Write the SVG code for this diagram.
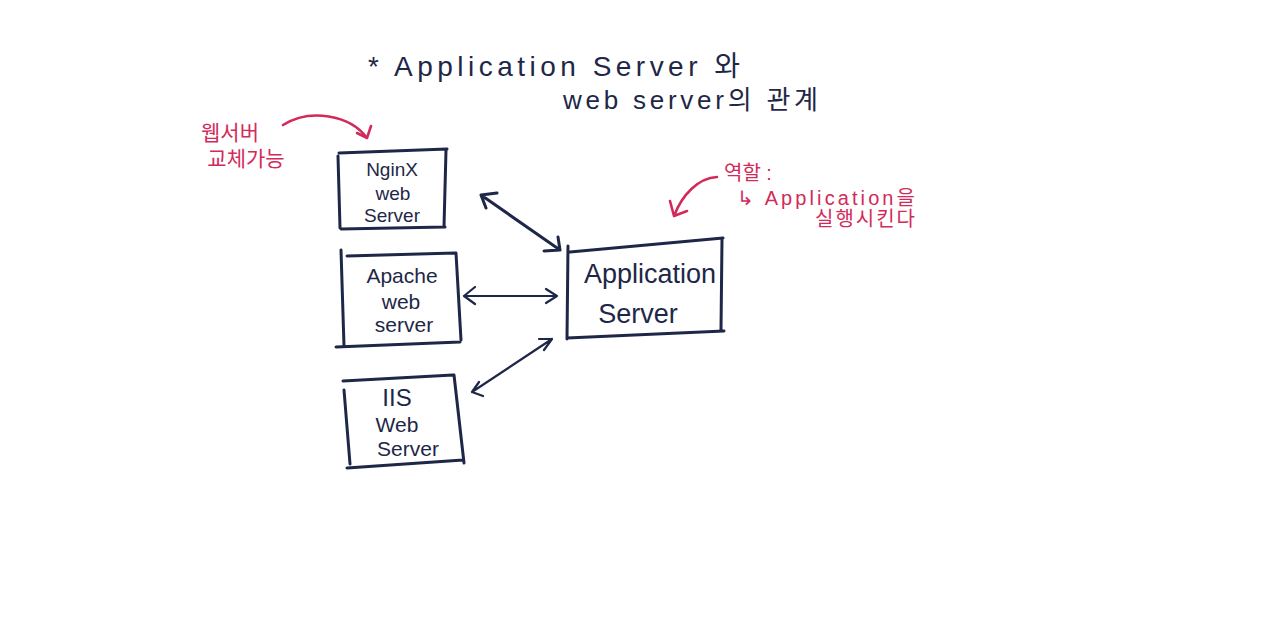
<svg xmlns="http://www.w3.org/2000/svg" width="1280" height="635" viewBox="0 0 1280 635">
<defs>
<style>
.ink{fill:none;stroke:#1e2747;stroke-width:3;stroke-linecap:round;stroke-linejoin:round}
.thin{fill:none;stroke:#1e2747;stroke-width:2.2;stroke-linecap:round;stroke-linejoin:round}
.red{fill:none;stroke:#d22a5a;stroke-width:2.6;stroke-linecap:round;stroke-linejoin:round}
.t{font-family:"Liberation Sans","Noto Sans CJK KR",sans-serif;fill:#1e2747;text-anchor:middle}
.r{font-family:"Liberation Sans","Noto Sans CJK KR",sans-serif;fill:#d22a5a;text-anchor:middle}
.s{text-anchor:start}
</style>
</defs>
<rect width="1280" height="635" fill="#ffffff"/>
<g id="title">
<text class="t s" x="368" y="76" font-size="28" textLength="372" lengthAdjust="spacing">*  Application   Server  와</text>
<text class="t s" x="563" y="109" font-size="26" textLength="255" lengthAdjust="spacing">web server의 관계</text>
</g>
<g id="nginx">
<path class="ink" d="M339,153 L447,149 M338,156 L340,228 M446,150 L444,227 M341,229 L445,227"/>
<text class="t" x="392" y="176" font-size="19">NginX</text>
<text class="t" x="393" y="200" font-size="19">web</text>
<text class="t" x="392" y="222" font-size="19">Server</text>
</g>
<g id="apache">
<path class="ink" d="M347,256 L455,253 M341,250 L344,346 M456,253 L461,340 M336,347 L460,342"/>
<text class="t" x="402" y="283" font-size="21">Apache</text>
<text class="t" x="401" y="309" font-size="21">web</text>
<text class="t" x="404" y="332" font-size="21">server</text>
</g>
<g id="iis">
<path class="ink" d="M343,381 L453,375 M344,390 L350,464 M454,375 L464,463 M347,468 L463,460"/>
<text class="t" x="397" y="406" font-size="24">IIS</text>
<text class="t" x="397" y="432" font-size="21">Web</text>
<text class="t" x="408" y="456" font-size="21">Server</text>
</g>
<g id="appserver">
<path class="ink" d="M570,252 L723,238 M568,246 L567,339 M722,239 L721,330 M567,338 L724,331"/>
<text class="t" x="650" y="283" font-size="27">Application</text>
<text class="t" x="638" y="323" font-size="27">Server</text>
</g>
<g id="connectors">
<path class="ink" d="M481,195 L560,250 M481,195 L497,193 M481,195 L486,208 M560,250 L544,251 M560,250 L558,237"/>
<path class="thin" d="M464,296 L557,296 M464,296 L475,287 M464,296 L475,304 M557,296 L546,289 M557,296 L546,303"/>
<path class="thin" d="M472,392 L552,339 M472,392 L483,396 M472,392 L479,382 M552,339 L539,339 M552,339 L544,350"/>
</g>
<g id="note-left">
<text class="r" x="230" y="140" font-size="21">웹서버</text>
<text class="r" x="246" y="166" font-size="21">교체가능</text>
<path class="red" d="M283,125 C310,108 350,115 367,138 M367,138 L357,133 M367,138 L371,126"/>
</g>
<g id="note-right">
<text class="r s" x="724" y="180" font-size="20">역할 :</text>
<text class="r s" x="737" y="205" font-size="20" textLength="178" lengthAdjust="spacing">↳ Application을</text>
<text class="r s" x="815" y="226" font-size="20" textLength="100" lengthAdjust="spacing">실행시킨다</text>
<path class="red" d="M717,177 C698,178 682,195 674,216 M674,216 L670,201 M674,216 L687,211"/>
</g>
</svg>
